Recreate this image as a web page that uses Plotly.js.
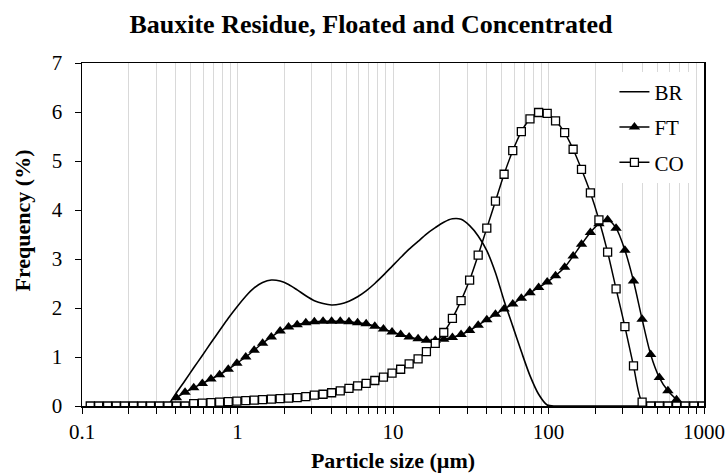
<!DOCTYPE html>
<html>
<head>
<meta charset="utf-8">
<script src="https://cdn.plot.ly/plotly-3.0.1.min.js"></script>
<style>html,body{margin:0;padding:0;background:#fff;}#chart{width:726px;height:476px;}</style>
</head>
<body>
<div id="chart"></div>
<script>
// Particle size classes (µm)
const sizes = [0.113,0.128,0.146,0.166,0.188,0.214,0.243,0.276,0.314,0.357,
  0.405,0.460,0.523,0.594,0.675,0.767,0.872,0.991,1.13,1.28,
  1.45,1.65,1.88,2.13,2.42,2.75,3.12,3.55,4.03,4.58,
  5.21,5.92,6.72,7.64,8.68,9.86,11.2,12.7,14.5,16.4,
  18.7,21.2,24.1,27.4,31.1,35.3,40.1,45.6,51.8,58.9,
  66.9,76.0,86.4,98.1,111,127,144,163,186,211,
  240,272,310,352,400,454,516,586,666,756,
  859,976];

// Bauxite Residue (%)
const brValues = [null,null,null,null,null,null,null,null,null,0,
  0.27,0.52,0.78,1.03,1.29,1.54,1.79,2.02,2.24,2.41,
  2.52,2.57,2.55,2.48,2.37,2.25,2.15,2.09,2.06,2.08,
  2.14,2.23,2.35,2.50,2.67,2.85,3.03,3.20,3.36,3.51,
  3.64,3.75,3.82,3.81,3.68,3.47,3.17,2.72,2.15,1.63,
  1.11,0.62,0.24,0.02,0,0,0,0,0,0,
  0,0,0,0,0,0,0,0,0,0,
  0,0];

// Floated (%)
const ftValues = [null,null,null,null,null,null,null,null,null,null,
  0.17,0.28,0.37,0.46,0.55,0.64,0.75,0.87,1.00,1.14,
  1.28,1.41,1.53,1.61,1.66,1.70,1.72,1.73,1.73,1.73,
  1.72,1.70,1.68,1.63,1.57,1.51,1.46,1.41,1.37,1.34,
  1.34,1.36,1.40,1.46,1.54,1.65,1.76,1.87,1.98,2.08,
  2.20,2.31,2.42,2.53,2.66,2.83,3.06,3.30,3.54,3.72,
  3.80,3.63,3.18,2.55,1.77,1.05,0.58,0.31,0.13,null,
  null,null];

// Concentrated (%)
const coValues = [0,0,0,0,0,0,0,0,0,0,
  0,0,0.05,0.06,0.07,0.08,0.09,0.10,0.11,0.12,
  0.13,0.14,0.15,0.16,0.17,0.19,0.22,0.24,0.27,0.31,
  0.36,0.41,0.46,0.52,0.59,0.67,0.75,0.86,0.96,1.11,
  1.28,1.50,1.79,2.15,2.57,3.08,3.63,4.18,4.73,5.21,
  5.60,5.86,5.99,5.97,5.82,5.58,5.24,4.83,4.35,3.80,
  3.14,2.39,1.62,0.82,0.08,0,0,0,0,0,
  0,0];

const seriesNames = ['BR','FT','CO'];
const xTickVals = [0.1,1,10,100,1000];
const xTickText = ['0.1','1','10','100','1000'];
const xMinorVals = [0.2,0.3,0.4,0.5,0.6,0.7,0.8,0.9,2,3,4,5,6,7,8,9,20,30,40,50,60,70,80,90,200,300,400,500,600,700,800,900];
const yTickVals = [0,1,2,3,4,5,6,7];

const serif = '"Times New Roman", "Liberation Serif", serif';

const traces = [
  {x:sizes, y:brValues, name:seriesNames[0], legendgroup:'a', type:'scatter', mode:'lines',
   line:{color:'#000', width:1.6, shape:'spline', smoothing:0.8}, connectgaps:false},
  {x:sizes, y:ftValues, name:seriesNames[1], legendgroup:'b', type:'scatter', mode:'lines+markers',
   line:{color:'#000', width:1.5, shape:'spline', smoothing:0.8}, connectgaps:false,
   marker:{symbol:'triangle-up', size:10, color:'#000', line:{width:0}}},
  {x:sizes, y:coValues, name:seriesNames[2], legendgroup:'c', type:'scatter', mode:'lines+markers',
   line:{color:'#000', width:1.5, shape:'spline', smoothing:0.8}, connectgaps:false,
   marker:{symbol:'square', size:8, color:'#fff', line:{width:1.3, color:'#000'}}}
];

const layout = {
  width:726, height:476,
  margin:{l:82, r:22, t:63, b:70},
  paper_bgcolor:'#fff', plot_bgcolor:'#fff',
  font:{family:serif, color:'#000', size:21},
  showlegend:true,
  title:{text:'Bauxite Residue, Floated and Concentrated', font:{family:serif, size:26, weight:'bold', color:'#000'},
         x:371/726, xref:'container', xanchor:'center', y:1-24/476, yref:'container', yanchor:'middle'},
  xaxis:{type:'log', range:[-1,3], tickvals:xTickVals, ticktext:xTickText,
    showgrid:true, gridcolor:'#d9d9d9', gridwidth:1,
    ticks:'outside', ticklen:6, tickcolor:'#000', tickwidth:1,
    showline:true, linecolor:'#000', linewidth:1.5, mirror:true,
    zeroline:false,
    minor:{tickvals:xMinorVals, showgrid:true, gridcolor:'#d9d9d9', gridwidth:1, ticks:'outside', ticklen:6, tickcolor:'#000'},
    tickfont:{family:serif, size:21, color:'#000'},
    title:{text:'Particle size (µm)', font:{family:serif, size:22, weight:'bold', color:'#000'}, standoff:10}},
  yaxis:{range:[0,7], tickvals:yTickVals, showgrid:false, zeroline:false,
    ticks:'outside', ticklen:6, tickcolor:'#000', tickwidth:1, ticklabelstandoff:8,
    showline:true, linecolor:'#000', linewidth:1.5, mirror:true,
    tickfont:{family:serif, size:21, color:'#000'}},
  annotations:[{text:'Frequency (%)', textangle:-90, xref:'paper', yref:'paper',
    x:(21.5-82)/622, y:(406-221)/343, xanchor:'center', yanchor:'middle', showarrow:false,
    font:{family:serif, size:22, weight:'bold', color:'#000'}}],
  legend:{x:0.856, xanchor:'left', y:0.975, yanchor:'top', bgcolor:'#fff', borderwidth:0,
    traceorder:'grouped', tracegroupgap:5,
    font:{family:serif, size:21, color:'#000'}, itemwidth:30}
};

Plotly.newPlot('chart', traces, layout, {displayModeBar:false, staticPlot:true});
</script>
</body>
</html>
